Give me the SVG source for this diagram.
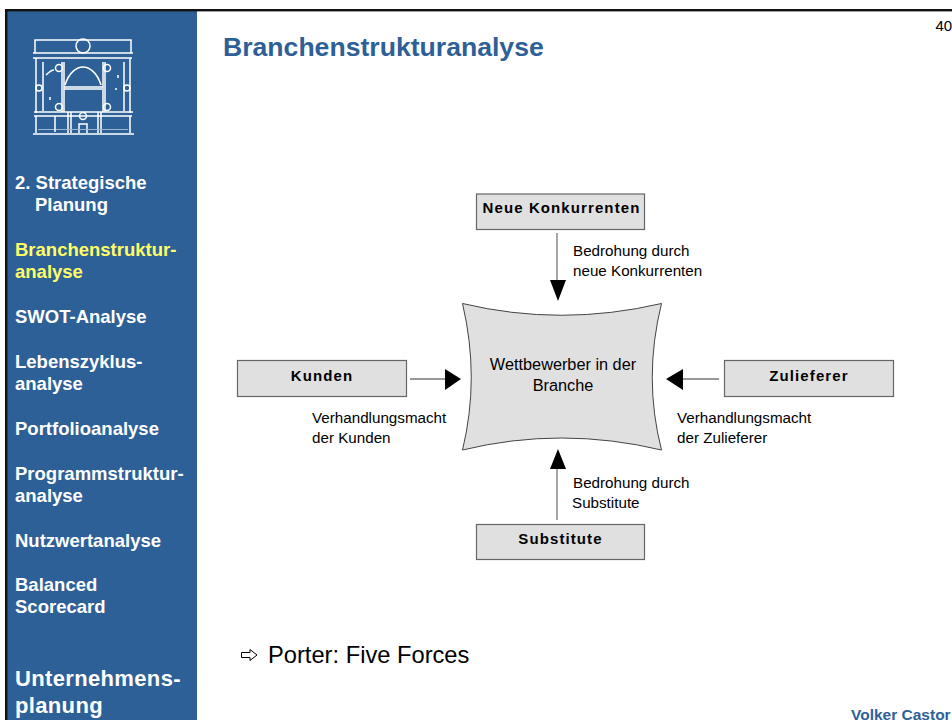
<svg xmlns="http://www.w3.org/2000/svg" width="952" height="720" viewBox="0 0 952 720">
<defs>
<style>
text{font-family:"Liberation Sans",Arial,sans-serif;fill:#000}
.nav{font-size:18.500px;font-weight:700;fill:#fff}
.box{fill:#e0e0e0;stroke:#666;stroke-width:1.2}
.bl{font-size:15px;font-weight:700;text-anchor:middle;letter-spacing:1.100px}
.lab{font-size:15.200px}
.ln{stroke:#777;stroke-width:1.3;fill:none}
.ah{fill:#000}
.logo path,.logo rect,.logo circle{fill:none;stroke:#fff;stroke-width:1.500}
</style>
</defs>
<rect width="952" height="720" fill="#fff"/>
<rect x="7" y="11" width="190" height="709" fill="#2e6098"/>
<rect x="5" y="9" width="947" height="2.400" fill="#111"/>
<rect x="5" y="9" width="2.400" height="711" fill="#111"/>
<g class="logo">
<path d="M35 53V40H131V53M33 53H133M33 58H132M36 58V113M130 58V113M43 62V111M124 62V111M62 62V112M64 62V112M103 62V112M105 62V112M34 112H133M34 116H132M36 116V133M130 116V133M33 134H134"/>
<circle cx="83" cy="46" r="7"/>
<circle cx="59" cy="68" r="3.500"/><circle cx="107" cy="68" r="3.500"/><circle cx="59" cy="107" r="3.500"/><circle cx="107" cy="107" r="3.500"/><circle cx="39" cy="88" r="3"/><circle cx="127" cy="88" r="3"/><circle cx="83" cy="116" r="3.500"/>
<path d="M65 85C69 72 77 67 83 67S97 72 101 85M64 87H103M64 89H102M68 112V133M71 112V133M98 112V133M101 112V133M79 133V124H87V133" stroke-width="1.800"/>
<path d="M38 129.500H128" style="stroke:#9fb6d0;stroke-width:1"/>
<path d="M55 116V132M46 75C50 71 52 70 54 70M50 97V100M118 75V78M116 88V90" stroke-width="1"/>
</g>
<g id="nav">
<text class="nav" x="15" y="189">2. Strategische</text>
<text class="nav" x="35" y="211">Planung</text>
<text class="nav" x="15" y="256" style="fill:#ffff66">Branchenstruktur-</text>
<text class="nav" x="15" y="278" style="fill:#ffff66">analyse</text>
<text class="nav" x="15" y="323">SWOT-Analyse</text>
<text class="nav" x="15" y="368">Lebenszyklus-</text>
<text class="nav" x="15" y="390">analyse</text>
<text class="nav" x="15" y="435">Portfolioanalyse</text>
<text class="nav" x="15" y="480">Programmstruktur-</text>
<text class="nav" x="15" y="502">analyse</text>
<text class="nav" x="15" y="547">Nutzwertanalyse</text>
<text class="nav" x="15" y="591">Balanced</text>
<text class="nav" x="15" y="613">Scorecard</text>
<text class="nav" x="15" y="686" style="font-size:22px;letter-spacing:.35px">Unternehmens-</text>
<text class="nav" x="15" y="713" style="font-size:22px;letter-spacing:.35px">planung</text>
</g>
<text x="223" y="56" style="font-size:26.600px;font-weight:700;fill:#2e6098">Branchenstrukturanalyse</text>
<text x="935.500" y="31" style="font-size:15px">40</text>
<g id="connectors">
<path class="ln" d="M557 233V280M410 379H445M719 379H683M557 520V468"/>
<path class="ah" d="M550 280H566L558 301ZM445 369V390L461 379ZM683 369V390L666 379ZM550 469H566L558 449Z"/>
</g>
<g id="neue-konkurrenten"><rect class="box" x="476.500" y="194" width="168" height="35.500"/><text class="bl" x="561.500" y="213">Neue Konkurrenten</text></g>
<g id="kunden"><rect class="box" x="237.500" y="360.500" width="169" height="36"/><text class="bl" x="322" y="381">Kunden</text></g>
<g id="zulieferer"><rect class="box" x="724.500" y="360.500" width="169" height="36"/><text class="bl" x="809" y="381">Zulieferer</text></g>
<g id="substitute"><rect class="box" x="476.500" y="524.500" width="168" height="35"/><text class="bl" x="560.500" y="544">Substitute</text></g>
<g id="wettbewerber">
<path d="M462.500 303.500Q561 327 661.500 303.500Q643 378 661.500 450Q561 426 462.500 450Q480 378 462.500 303.500Z" fill="#e0e0e0" stroke="#444" stroke-width="1"/>
<text x="563" y="370" style="font-size:16.300px" text-anchor="middle">Wettbewerber in der</text>
<text x="563" y="391" style="font-size:16.300px" text-anchor="middle">Branche</text>
</g>
<g id="labels">
<text class="lab" x="573" y="256">Bedrohung durch</text>
<text class="lab" x="573" y="276">neue Konkurrenten</text>
<text class="lab" x="312" y="423">Verhandlungsmacht</text>
<text class="lab" x="312" y="443">der Kunden</text>
<text class="lab" x="677" y="423">Verhandlungsmacht</text>
<text class="lab" x="677" y="443">der Zulieferer</text>
<text class="lab" x="573" y="488">Bedrohung durch</text>
<text class="lab" x="572" y="508">Substitute</text>
</g>
<path d="M241.500 652.500H250V649.500L257 655L250 660.500V657.500H241.500Z" fill="#fff" stroke="#000" stroke-width="1"/>
<text x="268" y="663" style="font-size:23.700px">Porter: Five Forces</text>
<text x="851" y="719.500" style="font-size:15.500px;font-weight:700;fill:#2e6098">Volker Castor</text>
</svg>
